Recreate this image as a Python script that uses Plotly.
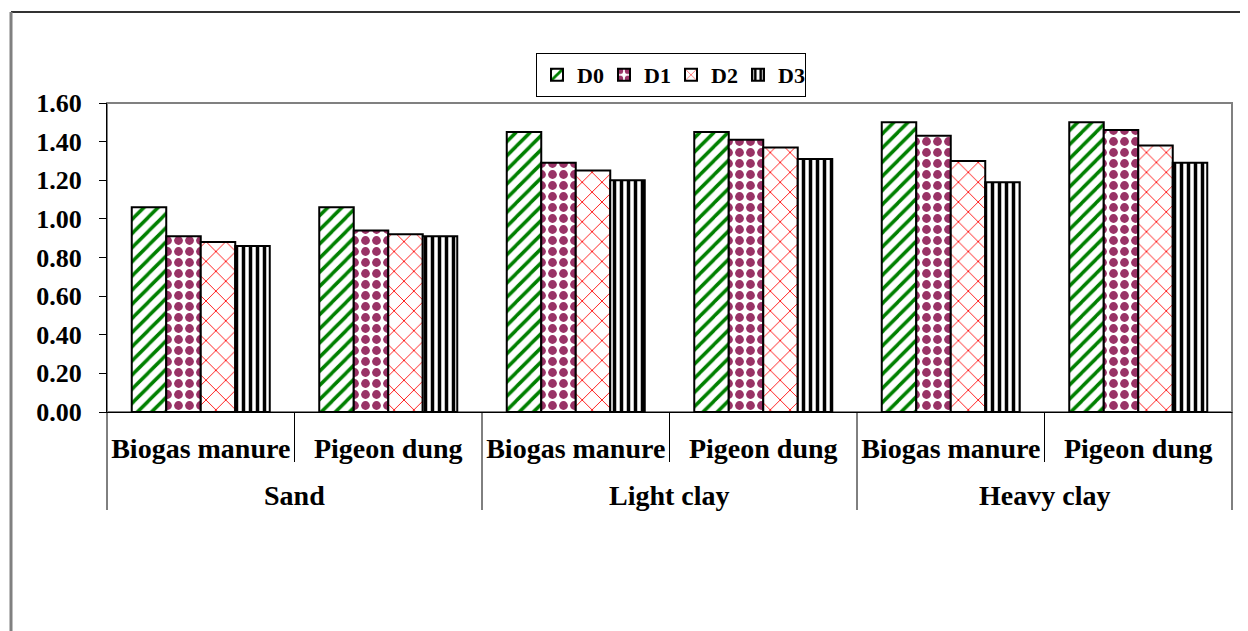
import plotly.graph_objects as go

soil_names = ["Sand", "Light clay", "Heavy clay"]
soils = ["Sand", "Sand", "Light clay", "Light clay", "Heavy clay", "Heavy clay"]
manures = ["Biogas manure", "Pigeon dung", "Biogas manure", "Pigeon dung", "Biogas manure", "Pigeon dung"]
series_names = ["D0", "D1", "D2", "D3"]
D0 = [1.06, 1.06, 1.45, 1.45, 1.50, 1.50]
D1 = [0.91, 0.94, 1.29, 1.41, 1.43, 1.46]
D2 = [0.88, 0.92, 1.25, 1.37, 1.30, 1.38]
D3 = [0.86, 0.91, 1.20, 1.31, 1.19, 1.29]
y_ticks = [0.0, 0.2, 0.4, 0.6, 0.8, 1.0, 1.2, 1.4, 1.6]

# unique category keys; the axis shows the manure names as tick text
cat_keys = [f"{s} | {m}" for s, m in zip(soils, manures)]

styles = [
    dict(fg="#008000", shape="/", size=10, solidity=0.35),
    dict(fg="#993366", shape=".", size=11, solidity=0.5),
    dict(fg="#FF0000", shape="x", size=14, solidity=0.12),
    dict(fg="#000000", shape="|", size=7, solidity=0.5),
]

FONT = "Liberation Serif, Times New Roman, serif"

fig = go.Figure()
for name, vals, st in zip(series_names, [D0, D1, D2, D3], styles):
    fig.add_trace(go.Bar(
        name=name,
        x=cat_keys,
        y=vals,
        marker=dict(
            color="white",
            line=dict(color="black", width=2),
            pattern=dict(shape=st["shape"], fgcolor=st["fg"], bgcolor="white",
                         size=st["size"], solidity=st["solidity"], fillmode="replace"),
        ),
    ))

# page has an 8px body margin: figure coords = page coords - 8
OFF = 8
W, H = 1248 - OFF, 631 - OFF
L, T = 107 - OFF, 103 - OFF
R = W - (1232 - OFF)
B = H - (412 - OFF)
pw, ph = W - L - R, H - T - B

def px2x(page_px):
    return (page_px - OFF - L) / pw

def py2y(page_py):
    return (H - B - (page_py - OFF)) / ph

shapes = [
    dict(type="rect", xref="paper", yref="paper", x0=0, x1=1, y0=0, y1=1,
         line=dict(color="#808080", width=2), layer="below"),
    dict(type="line", xref="paper", yref="paper", x0=px2x(11), x1=px2x(1270), y0=py2y(12), y1=py2y(12),
         line=dict(color="#333333", width=2)),
    dict(type="line", xref="paper", yref="paper", x0=px2x(11), x1=px2x(11), y0=py2y(12), y1=py2y(660),
         line=dict(color="#808080", width=3)),
]
n = len(manures)
for k in range(n + 1):
    outer = (k % 2 == 0)
    shapes.append(dict(type="line", xref="paper", yref="paper", x0=k / n, x1=k / n,
                       y0=0, y1=py2y(510 if outer else 462), line=dict(color="black", width=1)))

annotations = []
for i, s in enumerate(soil_names):
    annotations.append(dict(text=s, xref="paper", yref="paper", x=(2 * i + 1) / n, y=py2y(495),
                            xanchor="center", yanchor="middle", showarrow=False,
                            font=dict(family=FONT, size=28, color="black", weight="bold")))

fig.update_layout(
    width=W, height=H,
    margin=dict(l=L, r=R, t=T, b=B, autoexpand=False),
    paper_bgcolor="white", plot_bgcolor="white",
    barmode="group", bargap=0.264, bargroupgap=0,
    font=dict(family=FONT, color="black"),
    showlegend=True,
    legend=dict(orientation="h", x=px2x(671), xanchor="center", y=py2y(53), yanchor="top",
                bordercolor="black", borderwidth=1, bgcolor="white",
                font=dict(family=FONT, size=22, color="black", weight="bold"),
                itemwidth=30, entrywidth=22, traceorder="normal"),
    xaxis=dict(type="category", categoryorder="array", categoryarray=cat_keys,
               tickvals=cat_keys, ticktext=manures,
               showline=True, linecolor="black", linewidth=1,
               ticks="", showgrid=False, ticklabelstandoff=11,
               tickfont=dict(family=FONT, size=28, color="black", weight="bold")),
    yaxis=dict(range=[0, 1.6], tickvals=y_ticks, tickformat=".2f", showline=True,
               linecolor="black", linewidth=1, ticks="outside", ticklen=7, tickcolor="black",
               showgrid=False, zeroline=False, ticklabelstandoff=12,
               tickfont=dict(family=FONT, size=26, color="black", weight="bold")),
    shapes=shapes,
    annotations=annotations,
)

fig.write_html("out.html")
